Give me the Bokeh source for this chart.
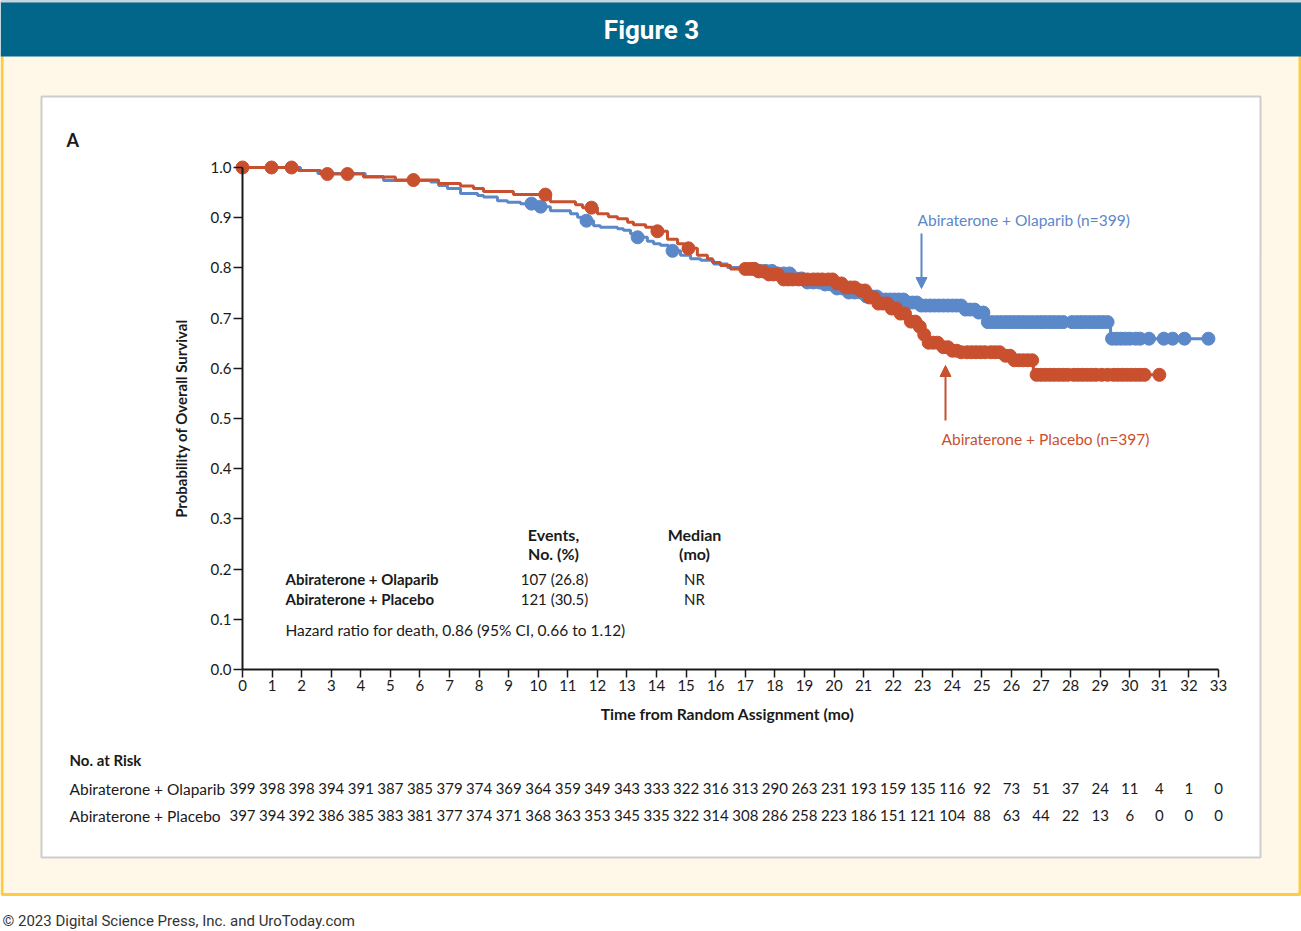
import numpy as np
from bokeh.plotting import figure
from bokeh.models import Range1d, FixedTicker, Label, Arrow, NormalHead, PrintfTickFormatter
from bokeh.core.properties import value
from bokeh.embed import file_html
from bokeh.resources import INLINE

# ---------------- data ----------------
# Kaplan-Meier steps: time (months) at which the curve drops, and survival after the drop
placebo_t = [0, 1.89, 2.64, 4.09, 5.17, 6.63, 7.37, 7.81, 8.15, 9.16, 10.41, 11.26, 11.50,
             12.00, 12.37, 12.68, 13.02, 13.22, 13.63, 13.86, 14.37, 14.71, 14.94, 15.38,
             15.72, 15.89, 16.16, 16.50, 17.35, 17.78, 18.19, 20.05, 20.39, 20.83, 21.10,
             21.50, 21.91, 22.25, 22.42, 22.76, 22.92, 23.13, 23.53, 23.94, 24.21, 25.73,
             26.07, 26.74, 31.0]
placebo_s = [1.0, 0.994, 0.987, 0.981, 0.975, 0.968, 0.963, 0.958, 0.952, 0.946, 0.932, 0.926,
             0.920, 0.908, 0.902, 0.898, 0.891, 0.886, 0.881, 0.873, 0.857, 0.848, 0.839, 0.825,
             0.818, 0.811, 0.805, 0.798, 0.793, 0.787, 0.777, 0.769, 0.761, 0.755, 0.741,
             0.729, 0.719, 0.709, 0.693, 0.683, 0.667, 0.651, 0.642, 0.635, 0.632, 0.625,
             0.616, 0.587, 0.587]

olaparib_t = [0, 1.96, 2.55, 4.15, 4.77, 6.36, 6.63, 6.93, 7.37, 7.95, 8.15, 8.62, 8.96, 9.40,
              9.94, 10.41, 11.09, 11.33, 11.60, 11.87, 12.10, 12.68, 12.88, 13.12, 13.29, 13.69,
              13.90, 14.13, 14.40, 14.81, 15.15, 15.49, 15.93, 16.40, 16.84, 17.41, 18.02, 18.53,
              19.04, 19.61, 20.05, 20.49, 20.96, 21.57, 22.42, 22.92, 24.34, 24.78, 25.16, 29.35,
              32.66]
olaparib_s = [1.0, 0.994, 0.988, 0.982, 0.974, 0.971, 0.964, 0.958, 0.948, 0.944, 0.941, 0.934,
              0.931, 0.928, 0.922, 0.914, 0.908, 0.901, 0.894, 0.884, 0.881, 0.878, 0.875, 0.868,
              0.861, 0.853, 0.848, 0.845, 0.834, 0.825, 0.818, 0.815, 0.808, 0.801, 0.798, 0.794,
              0.789, 0.779, 0.771, 0.767, 0.759, 0.751, 0.743, 0.737, 0.731, 0.725, 0.717, 0.711,
              0.692, 0.659, 0.659]

# censoring times (months)
placebo_cens = [0.0, 0.98, 1.66, 2.87, 3.55, 5.78, 10.24, 11.80, 14.03, 15.08,
                17.0, 17.15, 17.3, 17.45, 17.6, 17.8, 17.95, 18.1, 18.3, 18.45, 18.6, 18.8,
                18.95, 19.1, 19.3, 19.45, 19.6, 19.8, 19.95, 20.1, 20.25, 20.4, 20.55, 20.7,
                20.9, 21.05, 21.2, 21.35, 21.5, 21.65, 21.8, 21.95, 22.1, 22.25, 22.4, 22.6,
                22.75, 22.9, 23.05, 23.2, 23.35, 23.5, 23.7, 23.85, 24.0, 24.15, 24.3, 24.5,
                24.65, 24.8, 24.95, 25.1, 25.3, 25.45, 25.6, 25.8, 25.95, 26.1, 26.25, 26.4,
                26.55, 26.7, 26.85, 27.0, 27.15, 27.3, 27.45, 27.6, 27.75, 27.9, 28.1, 28.25,
                28.4, 28.55, 28.7, 28.85, 29.05, 29.25, 29.45, 29.6, 29.75, 29.9, 30.05, 30.2,
                30.35, 30.5, 31.0]
olaparib_cens = [9.77, 10.08, 11.63, 13.36, 14.54,
                 17.3, 17.5, 17.7, 17.9, 18.1, 18.3, 18.5, 18.7, 18.9, 19.1, 19.3, 19.5, 19.7,
                 19.9, 20.1, 20.3, 20.5, 20.7, 20.9, 21.1, 21.3, 21.45, 21.6, 21.75, 21.9,
                 22.05, 22.2, 22.35, 22.5, 22.65, 22.8, 22.95, 23.1, 23.25, 23.4, 23.55, 23.7,
                 23.85, 24.0, 24.15, 24.3, 24.45, 24.6, 24.75, 24.9, 25.05, 25.2, 25.35, 25.5,
                 25.65, 25.8, 25.95, 26.1, 26.25, 26.4, 26.55, 26.7, 26.85, 27.0, 27.15, 27.3,
                 27.45, 27.6, 27.75, 28.05, 28.2, 28.35, 28.5, 28.65, 28.8, 28.95, 29.1, 29.25,
                 29.4, 29.55, 29.7, 29.85, 30.0, 30.2, 30.35, 30.65, 31.15, 31.45, 31.85, 32.66]

x_ticks = list(range(34))
y_ticks = [0.0, 0.1, 0.2, 0.3, 0.4, 0.5, 0.6, 0.7, 0.8, 0.9, 1.0]

risk_olaparib = [399, 398, 398, 394, 391, 387, 385, 379, 374, 369, 364, 359, 349, 343, 333, 322,
                 316, 313, 290, 263, 231, 193, 159, 135, 116, 92, 73, 51, 37, 24, 11, 4, 1, 0]
risk_placebo = [397, 394, 392, 386, 385, 383, 381, 377, 374, 371, 368, 363, 353, 345, 335, 322,
                314, 308, 286, 258, 223, 186, 151, 121, 104, 88, 63, 44, 22, 13, 6, 0, 0, 0]

arm_names = ["Abiraterone + Olaparib", "Abiraterone + Placebo"]
events = ["107 (26.8)", "121 (30.5)"]
medians = ["NR", "NR"]
arm_n = [399, 397]

# ---------------- styling ----------------
BLUE = "#5B88C9"
RED = "#C9502F"
TEAL = "#02668B"
CREAM = "#FFF8E8"
YELLOW = "#FFCB45"
INK = "#1A1A1A"
FONT = "Lato"

W, H = 1301, 931
X0, X33 = 242.0, 1218.0          # pixel columns of month 0 and month 33
Y0, Y1 = 669.0, 167.0            # pixel rows of probability 0.0 and 1.0
PXM = (X33 - X0) / 33.0
PXP = Y0 - Y1


def fx(px):
    return (px - X0) / PXM


def fy(py):
    return (Y0 - py) / PXP


p = figure(width=W, height=H, x_range=Range1d(fx(0), fx(W)), y_range=Range1d(fy(H), fy(0)),
           output_backend="svg", toolbar_location=None, min_border=0,
           min_border_left=0, min_border_right=0, min_border_top=0, min_border_bottom=0)
p.background_fill_color = "white"
p.border_fill_color = "white"
p.outline_line_color = None
p.xgrid.visible = False
p.ygrid.visible = False

# page furniture: cream card with yellow edge, teal banner, white figure panel
p.quad(left=[fx(1.5)], right=[fx(1299.5)], top=[fy(54)], bottom=[fy(894)],
       fill_color=CREAM, line_color=YELLOW, line_width=3)
p.quad(left=[fx(0)], right=[fx(W)], top=[fy(0)], bottom=[fy(56)], fill_color=TEAL, line_color=None)
p.quad(left=[fx(0)], right=[fx(W)], top=[fy(0)], bottom=[fy(2)], fill_color="#C9D3D8", line_color=None)
p.quad(left=[fx(41)], right=[fx(1260)], top=[fy(96)], bottom=[fy(857)],
       fill_color="white", line_color="#CDCDCD", line_width=2)

# axes drawn through the data origin
p.xaxis.fixed_location = 0
p.yaxis.fixed_location = 0
p.xaxis.ticker = FixedTicker(ticks=x_ticks)
p.yaxis.ticker = FixedTicker(ticks=y_ticks)
p.yaxis.formatter = PrintfTickFormatter(format="%.1f")
p.xaxis.bounds = (x_ticks[0], x_ticks[-1])
p.yaxis.bounds = (y_ticks[0], y_ticks[-1])
for ax in (p.xaxis, p.yaxis):
    ax.axis_line_color = INK
    ax.axis_line_width = 2
    ax.major_tick_line_color = INK
    ax.major_tick_line_width = 1.5
    ax.major_tick_in = 0
    ax.minor_tick_in = 0
    ax.minor_tick_out = 0
    ax.major_label_text_font = FONT
    ax.major_label_text_font_size = "15px"
    ax.major_label_text_color = INK
p.xaxis.major_tick_out = 8
p.yaxis.major_tick_out = 9
p.xaxis.major_label_standoff = 2
p.yaxis.major_label_standoff = 2


def surv_at(times, surv, ts):
    idx = np.searchsorted(np.asarray(times), np.asarray(ts), side="right") - 1
    return np.asarray(surv)[idx]


# survival curves
p.step(olaparib_t, olaparib_s, mode="after", line_color=BLUE, line_width=3)
p.step(placebo_t, placebo_s, mode="after", line_color=RED, line_width=3)
p.scatter(olaparib_cens, surv_at(olaparib_t, olaparib_s, olaparib_cens), size=13,
          fill_color=BLUE, line_color=BLUE)
p.scatter(placebo_cens, surv_at(placebo_t, placebo_s, placebo_cens), size=13,
          fill_color=RED, line_color=RED)

# arm labels with arrows
p.add_layout(Label(x=fx(917), y=fy(219), text=f"{arm_names[0]} (n={arm_n[0]})", text_font=FONT,
                   text_font_size="15.5px", text_color=BLUE, text_baseline="middle"))
p.add_layout(Label(x=fx(941), y=fy(438), text=f"{arm_names[1]} (n={arm_n[1]})", text_font=FONT,
                   text_font_size="15.5px", text_color=RED, text_baseline="middle"))
p.add_layout(Arrow(x_start=fx(921), y_start=fy(233), x_end=fx(921), y_end=fy(288),
                   line_color=BLUE, line_width=2,
                   end=NormalHead(size=11, fill_color=BLUE, line_color=BLUE)))
p.add_layout(Arrow(x_start=fx(945), y_start=fy(420), x_end=fx(945), y_end=fy(365),
                   line_color=RED, line_width=2,
                   end=NormalHead(size=11, fill_color=RED, line_color=RED)))


def label(x, y, text, size="15px", style="normal", align="left", color=INK, font=FONT, angle=0.0):
    p.add_layout(Label(x=fx(x), y=fy(y), text=text, text_font=font, text_font_size=size,
                       text_font_style=style, text_align=align, text_baseline="middle",
                       text_color=color, angle=angle))


# titles and axis captions
label(651, 29, "Figure 3", size="26px", style="bold", align="center", color="white", font="Roboto")
label(66, 139, "A", size="18px", style="bold")
label(180, 418, "Probability of Overall Survival", size="15px", style="bold", align="center",
      angle=np.pi / 2)
label(727, 713, "Time from Random Assignment (mo)", size="15.7px", style="bold", align="center")

# inset summary table
label(553, 534, "Events,", size="16px", style="bold", align="center")
label(553, 553, "No. (%)", size="16px", style="bold", align="center")
label(694, 534, "Median", size="16px", style="bold", align="center")
label(694, 553, "(mo)", size="16px", style="bold", align="center")
for i, row_y in enumerate([578, 598]):
    label(285, row_y, arm_names[i], size="15px", style="bold")
    label(554, row_y, events[i], size="15px", align="center")
    label(694, row_y, medians[i], size="15px", align="center")
label(285, 629, "Hazard ratio for death, 0.86 (95% CI, 0.66 to 1.12)", size="15.5px")

# number at risk
label(69, 759, "No. at Risk", style="bold")
for i, (row_y, counts) in enumerate([(788, risk_olaparib), (815, risk_placebo)]):
    label(69, row_y, arm_names[i], size="15.5px")
    p.text(x=x_ticks, y=[fy(row_y)] * len(x_ticks), text=[str(c) for c in counts],
           text_font=value(FONT), text_font_size="15px", text_color=INK,
           text_align="center", text_baseline="middle")

label(2, 920, "\u00a9 2023 Digital Science Press, Inc. and UroToday.com", color="#333333",
      font="Roboto")

open("out.html", "w").write(file_html(p, INLINE))
